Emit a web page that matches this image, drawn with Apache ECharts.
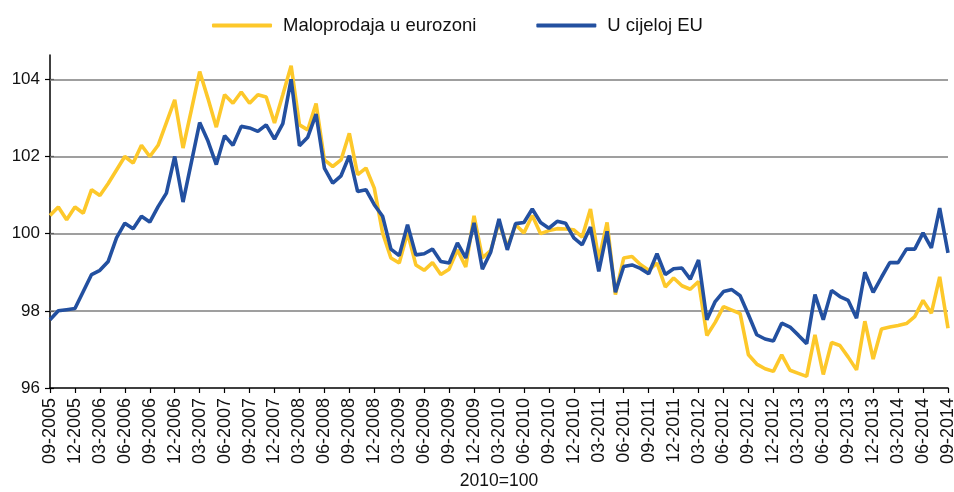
<!DOCTYPE html>
<html>
<head>
<meta charset="utf-8">
<script src="https://cdn.jsdelivr.net/npm/echarts@6/dist/echarts.min.js"></script>
<style>
html,body{margin:0;padding:0;background:#fff;}
#chart{width:954px;height:492px;}
</style>
</head>
<body>
<div id="chart"></div>
<script>
// Months from 09-2005 to 09-2014
const startYear = 2005, startMonth = 9, monthCount = 109;
const categories = [];
for (let k = 0; k < monthCount; k++) {
  const m = (startMonth - 1 + k) % 12 + 1;
  const y = startYear + Math.floor((startMonth - 1 + k) / 12);
  categories.push((m < 10 ? '0' + m : '' + m) + '-' + y);
}

const seriesNames = ['Maloprodaja u eurozoni', 'U cijeloj EU'];

const eurozone = [
  100.47, 100.69, 100.36, 100.69, 100.53, 101.14, 100.99, 101.30, 101.65, 102.00,
  101.83, 102.29, 102.00, 102.29, 102.88, 103.47, 102.22, 103.20, 104.20, 103.50,
  102.76, 103.60, 103.38, 103.67, 103.38, 103.60, 103.54, 102.87, 103.60, 104.35,
  102.82, 102.69, 103.37, 101.91, 101.74, 101.91, 102.60, 101.53, 101.70, 101.18,
  100.02, 99.37, 99.24, 100.02, 99.19, 99.05, 99.25, 98.94, 99.08, 99.58,
  99.14, 100.46, 99.37, 99.56, 100.30, 99.65, 100.23, 100.02, 100.47, 100.00,
  100.08, 100.13, 100.12, 100.10, 99.91, 100.64, 99.32, 100.29, 98.42, 99.37,
  99.41, 99.20, 99.05, 99.24, 98.62, 98.85, 98.65, 98.56, 98.76, 97.36,
  97.70, 98.11, 98.02, 97.93, 96.86, 96.62, 96.50, 96.43, 96.86, 96.46,
  96.38, 96.30, 97.38, 96.35, 97.18, 97.10, 96.80, 96.47, 97.73, 96.75,
  97.53, 97.58, 97.62, 97.67, 97.85, 98.27, 97.94, 98.88, 97.55
];

const wholeEU = [
  97.77, 98.00, 98.03, 98.06, 98.50, 98.94, 99.05, 99.28, 99.89, 100.27,
  100.13, 100.45, 100.30, 100.70, 101.05, 102.00, 100.82, 101.85, 102.88, 102.40,
  101.79, 102.54, 102.29, 102.78, 102.74, 102.65, 102.82, 102.45, 102.85, 104.00,
  102.28, 102.50, 103.10, 101.70, 101.31, 101.50, 102.02, 101.09, 101.14, 100.75,
  100.45, 99.60, 99.43, 100.23, 99.45, 99.48, 99.60, 99.28, 99.24, 99.76,
  99.37, 100.28, 99.08, 99.52, 100.38, 99.58, 100.26, 100.29, 100.64, 100.29,
  100.14, 100.32, 100.27, 99.89, 99.71, 100.17, 99.02, 100.06, 98.48, 99.15,
  99.19, 99.10, 98.96, 99.48, 98.94, 99.09, 99.11, 98.82, 99.32, 97.77,
  98.24, 98.50, 98.55, 98.39, 97.90, 97.38, 97.27, 97.22, 97.68, 97.58,
  97.37, 97.15, 98.42, 97.77, 98.53, 98.37, 98.27, 97.81, 99.00, 98.48,
  98.87, 99.25, 99.25, 99.60, 99.60, 100.02, 99.63, 100.66, 99.50
];

const yTicks = [96, 98, 100, 102, 104];
const gridValues = [98, 100, 102, 104];
const axisName = '2010=100';
const yMin = 96, yMax = 104.63;

const FONT = '"Liberation Sans", Arial, sans-serif';
const chart = echarts.init(document.getElementById('chart'), null, {renderer: 'canvas'});

chart.setOption({
  animation: false,
  backgroundColor: '#ffffff',
  grid: {left: 50, right: 6, top: 55, bottom: 104, containLabel: false, outerBoundsMode: 'none'},
  legend: {
    data: seriesNames,
    left: 207,
    top: 11,
    icon: 'roundRect',
    itemWidth: 60,
    itemHeight: 4,
    itemGap: 60,
    textStyle: {fontFamily: FONT, fontSize: 18.5, color: '#111', padding: [0, 0, 0, 6]}
  },
  xAxis: {
    type: 'category',
    data: categories,
    boundaryGap: false,
    name: axisName,
    nameLocation: 'middle',
    nameGap: 81,
    nameTextStyle: {fontFamily: FONT, fontSize: 17.5, color: '#111'},
    axisLine: {lineStyle: {color: '#000', width: 1.5}},
    axisTick: {show: true, interval: 2, length: 5, lineStyle: {color: '#000', width: 1.2}},
    axisLabel: {interval: 2, rotate: 90, margin: 10, fontFamily: FONT, fontSize: 18, color: '#111'},
    splitLine: {show: false}
  },
  yAxis: [
    {
      type: 'value',
      min: yMin,
      max: yMax,
      interval: 2,
      axisLine: {show: true, lineStyle: {color: '#000', width: 1.5}},
      axisTick: {show: true, length: 5, customValues: yTicks, lineStyle: {color: '#000', width: 1.2}},
      axisLabel: {margin: 10, customValues: yTicks, fontFamily: FONT, fontSize: 17, color: '#111'},
      splitLine: {show: false}
    },
    {
      type: 'value',
      position: 'left',
      min: yMin,
      max: yMax,
      interval: 2,
      axisLine: {show: false},
      axisTick: {show: true, inside: true, length: 4, customValues: yTicks, lineStyle: {color: '#000', width: 1.2}},
      axisLabel: {show: false},
      splitLine: {show: false}
    }
  ],
  series: [
    {
      name: seriesNames[0],
      type: 'line',
      data: eurozone,
      showSymbol: false,
      symbol: 'none',
      lineStyle: {color: '#FDC82A', width: 3.6},
      itemStyle: {color: '#FDC82A'},
      z: 2,
      markLine: {
        silent: true,
        symbol: 'none',
        label: {show: false},
        lineStyle: {color: '#7f7f7f', width: 1.5, type: 'solid'},
        data: gridValues.map(v => ({yAxis: v})),
        z: 1
      }
    },
    {
      name: seriesNames[1],
      type: 'line',
      data: wholeEU,
      showSymbol: false,
      symbol: 'none',
      lineStyle: {color: '#2350A0', width: 3.6},
      itemStyle: {color: '#2350A0'},
      z: 3
    }
  ]
});
</script>
</body>
</html>
